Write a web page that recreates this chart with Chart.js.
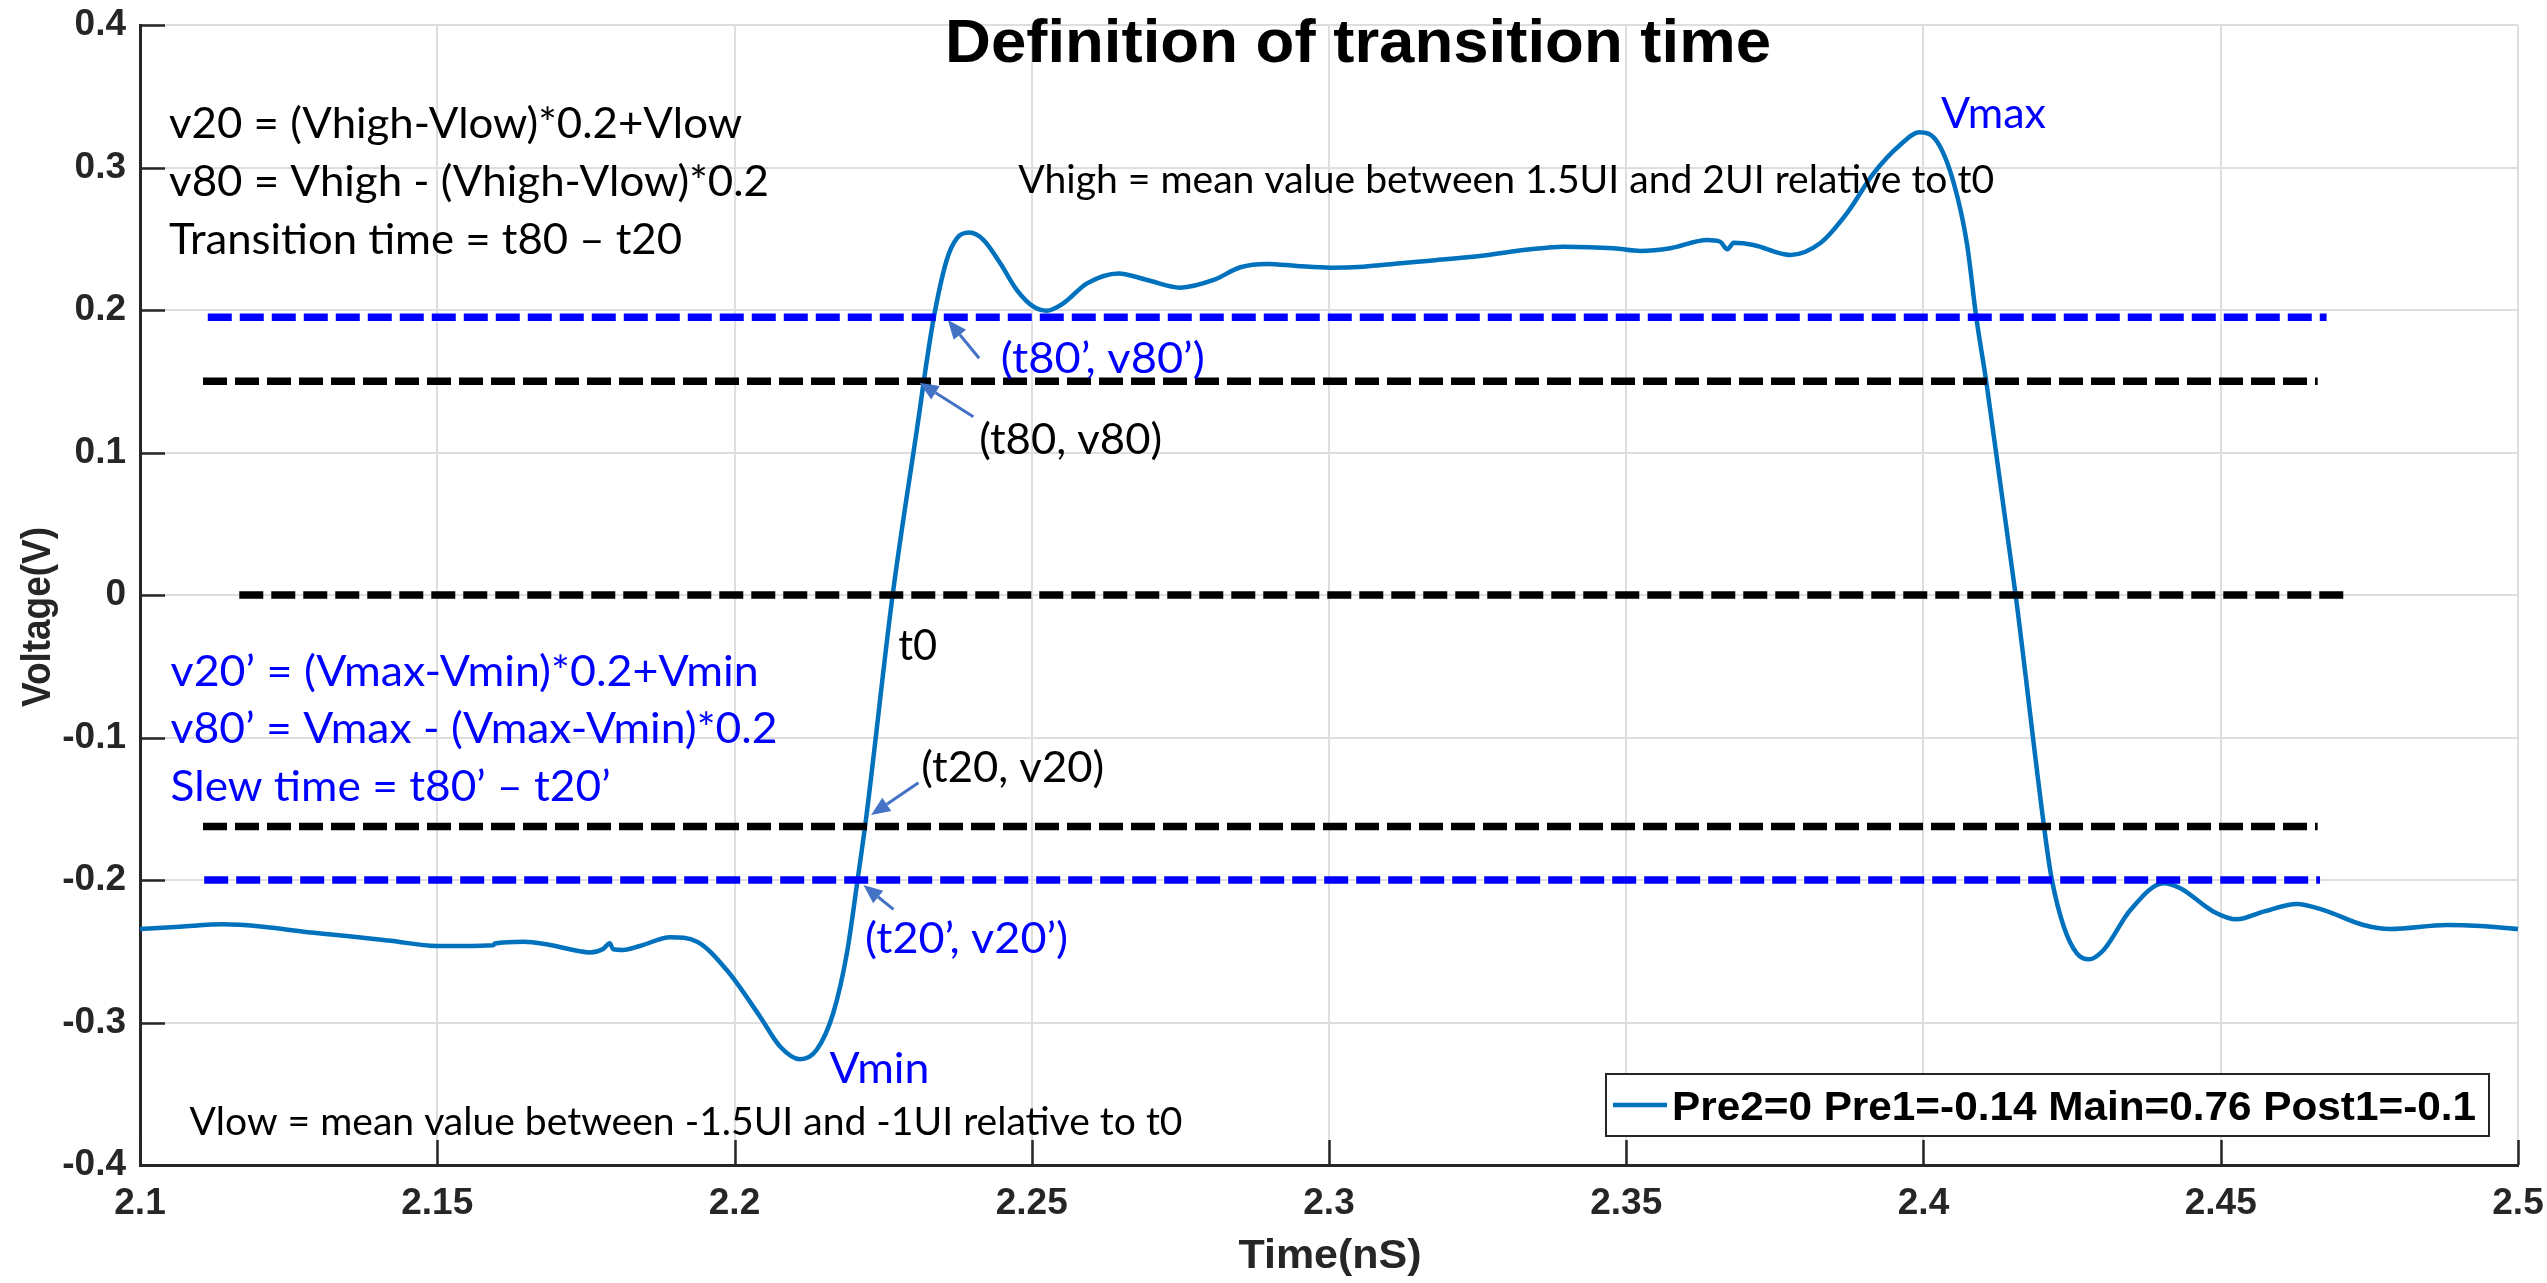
<!DOCTYPE html>
<html>
<head>
<meta charset="utf-8">
<script src="https://cdn.jsdelivr.net/npm/chart.js@4.4.1/dist/chart.umd.min.js"></script>
<style>
  html, body { margin: 0; padding: 0; background: #fff; }
  canvas { display: block; }
</style>
</head>
<body>
<canvas id="chart" width="2547" height="1283"></canvas>
<script>
// waveform (time in nS, voltage in V)
var times = [2.1000, 2.1067, 2.1140, 2.1207, 2.1275, 2.1348, 2.1421, 2.1499, 2.1544, 2.1594, 2.1597,
  2.1645, 2.1690, 2.1757, 2.1779, 2.1790, 2.1796, 2.1813, 2.1841, 2.1892, 2.1937, 2.1987, 2.2043,
  2.2077, 2.2110, 2.2138, 2.2166, 2.2189, 2.2207, 2.2221, 2.2266, 2.2312, 2.2318, 2.2335, 2.2357,
  2.2374, 2.2395, 2.2419, 2.2447, 2.2475, 2.2503, 2.2525, 2.2553, 2.2593, 2.2646, 2.2694, 2.2750,
  2.2806, 2.2851, 2.2896, 2.2946, 2.3002, 2.3058, 2.3120, 2.3170, 2.3254, 2.3339, 2.3395, 2.3479,
  2.3524, 2.3574, 2.3636, 2.3658, 2.3670, 2.3681, 2.3714, 2.3776, 2.3826, 2.3871, 2.3916, 2.3961,
  2.3993, 2.4023, 2.4051, 2.4073, 2.4089, 2.4106, 2.4155, 2.4208, 2.4216, 2.4236, 2.4258, 2.4278,
  2.4303, 2.4348, 2.4404, 2.4432, 2.4488, 2.4527, 2.4572, 2.4628, 2.4673, 2.4740, 2.4785, 2.4881,
  2.4937, 2.5000];
var volts = [-0.2344, -0.2328, -0.2311, -0.2328, -0.2363, -0.2393, -0.2426, -0.2463, -0.2463, -0.2458, -0.2446,
  -0.2433, -0.2456, -0.2508, -0.2484, -0.2444, -0.2486, -0.2491, -0.2463, -0.2402, -0.2433, -0.2632, -0.2959,
  -0.3170, -0.3258, -0.3193, -0.2935, -0.2515, -0.2000, -0.1579, 0.0000, 0.1310, 0.1490, 0.1942, 0.2351,
  0.2503, 0.2543, 0.2491, 0.2328, 0.2140, 0.2023, 0.1995, 0.2047, 0.2187, 0.2257, 0.2211, 0.2157,
  0.2211, 0.2300, 0.2323, 0.2309, 0.2297, 0.2304, 0.2328, 0.2346, 0.2379, 0.2426, 0.2444, 0.2433,
  0.2414, 0.2433, 0.2491, 0.2479, 0.2426, 0.2472, 0.2456, 0.2386, 0.2468, 0.2678, 0.2959, 0.3160,
  0.3247, 0.3181, 0.2889, 0.2468, 0.1942, 0.1486, 0.0000, -0.1789, -0.2000, -0.2328, -0.2515, -0.2557,
  -0.2491, -0.2211, -0.2023, -0.2058, -0.2222, -0.2276, -0.2222, -0.2168, -0.2211, -0.2316, -0.2344, -0.2316,
  -0.2323, -0.2344];
var seriesLabel = 'Pre2=0 Pre1=-0.14 Main=0.76 Post1=-0.1';

// dashed threshold lines: level and the time span each one covers
var levelValues = [0.195, 0.15, 0, -0.1625, -0.2];
var levelStarts = [2.1114, 2.1106, 2.1167, 2.1106, 2.1108];
var levelEnds = [2.4678, 2.4663, 2.4719, 2.4663, 2.4667];
var levelColors = ['#0000ff', '#000000', '#000000', '#000000', '#0000ff'];

var xTicks = [2.1, 2.15, 2.2, 2.25, 2.3, 2.35, 2.4, 2.45, 2.5];
var xTickLabels = ['2.1', '2.15', '2.2', '2.25', '2.3', '2.35', '2.4', '2.45', '2.5'];
var yTicks = [-0.4, -0.3, -0.2, -0.1, 0, 0.1, 0.2, 0.3, 0.4];
var yTickLabels = ['-0.4', '-0.3', '-0.2', '-0.1', '0', '0.1', '0.2', '0.3', '0.4'];

var titleText = 'Definition of transition time';
var xTitle = 'Time(nS)';
var yTitle = 'Voltage(V)';

// text notes placed in data units (left edge, baseline)
var BLUE = '#0000ff';
var notes = [
  { text: 'v20 = (Vhigh-Vlow)*0.2+Vlow', t: 2.10488, v: 0.3207, w: 573, size: 43, color: '#000' },
  { text: 'v80 = Vhigh - (Vhigh-Vlow)*0.2', t: 2.10488, v: 0.2800, w: 600, size: 43, color: '#000' },
  { text: 'Transition time = t80 \u2013 t20', t: 2.10488, v: 0.2393, w: 513, size: 43, color: '#000' },
  { text: 'Vhigh = mean value between 1.5UI and 2UI relative to t0', t: 2.24771, v: 0.2821, w: 976, size: 38, color: '#000' },
  { text: 'v20\u2019 = (Vmax-Vmin)*0.2+Vmin', t: 2.10515, v: -0.0639, w: 588, size: 43, color: BLUE },
  { text: 'v80\u2019 = Vmax - (Vmax-Vmin)*0.2', t: 2.10515, v: -0.1041, w: 607, size: 43, color: BLUE },
  { text: 'Slew time = t80\u2019 \u2013 t20\u2019', t: 2.10515, v: -0.1443, w: 440, size: 43, color: BLUE },
  { text: 't0', t: 2.22753, v: -0.0456, w: 39, size: 43, color: '#000' },
  { text: '(t80\u2019, v80\u2019)', t: 2.2448, v: 0.1560, w: 204, size: 43, color: BLUE },
  { text: '(t80, v80)', t: 2.24115, v: 0.0989, w: 183, size: 43, color: '#000' },
  { text: '(t20, v20)', t: 2.2314, v: -0.1310, w: 183, size: 43, color: '#000' },
  { text: '(t20\u2019, v20\u2019)', t: 2.22197, v: -0.2515, w: 203, size: 43, color: BLUE },
  { text: 'Vmin', t: 2.21597, v: -0.3427, w: 100, size: 43, color: BLUE },
  { text: 'Vmax', t: 2.40294, v: 0.3275, w: 105, size: 43, color: BLUE },
  { text: 'Vlow = mean value between -1.5UI and -1UI relative to t0', t: 2.10833, v: -0.3789, w: 993, size: 38, color: '#000' }
];

// pointer arrows: tail -> tip, in data units
var arrows = [
  { from: [2.24115, 0.1661], to: [2.23589, 0.1930] },
  { from: [2.24018, 0.1251], to: [2.23111, 0.1490] },
  { from: [2.23094, -0.1317], to: [2.22298, -0.1544] },
  { from: [2.22674, -0.2206], to: [2.22169, -0.2035] }
];

var TICK_FONT = { family: "'Liberation Sans', Arial, sans-serif", weight: 'bold', size: 37 };
var AXIS_COLOR = '#262626';

function fitText(ctx, str, x, y, font, color, width, align) {
  ctx.save();
  ctx.font = font;
  var w = ctx.measureText(str).width;
  var sx = width ? width / w : 1;
  ctx.translate(x, y);
  ctx.scale(sx, 1);
  ctx.fillStyle = color;
  ctx.textBaseline = 'alphabetic';
  ctx.textAlign = align || 'left';
  ctx.fillText(str, 0, 0);
  ctx.restore();
}

function drawArrow(ctx, x1, y1, x2, y2) {
  var a = Math.atan2(y2 - y1, x2 - x1), head = 19, half = 8;
  var c = Math.cos(a), s = Math.sin(a);
  var bx = x2 - head * c, by = y2 - head * s;
  ctx.save();
  ctx.strokeStyle = '#4472C4';
  ctx.fillStyle = '#4472C4';
  ctx.lineWidth = 3;
  ctx.beginPath();
  ctx.moveTo(x1, y1);
  ctx.lineTo(bx, by);
  ctx.stroke();
  ctx.beginPath();
  ctx.moveTo(x2, y2);
  ctx.lineTo(bx + half * s, by - half * c);
  ctx.lineTo(bx - half * s, by + half * c);
  ctx.closePath();
  ctx.fill();
  ctx.restore();
}

// keep the plot box where the reference has it: no extra room for edge labels
function noEdgePadding(s) {
  s.paddingTop = 0;
  s.paddingBottom = 0;
  s.paddingLeft = 0;
  s.paddingRight = 0;
}

var overlay = {
  id: 'overlay',
  afterDraw: function (chart) {
    var ctx = chart.ctx, area = chart.chartArea;
    var xs = chart.scales.x, ys = chart.scales.y;

    // inward tick marks
    ctx.save();
    ctx.strokeStyle = AXIS_COLOR;
    ctx.lineWidth = 2.5;
    ctx.beginPath();
    yTicks.forEach(function (v) {
      var py = Math.round(ys.getPixelForValue(v)) + 0.5;
      ctx.moveTo(area.left, py);
      ctx.lineTo(area.left + 25, py);
    });
    xTicks.forEach(function (t) {
      var px = Math.round(xs.getPixelForValue(t)) + 0.5;
      ctx.moveTo(px, area.bottom);
      ctx.lineTo(px, area.bottom - 25);
    });
    ctx.stroke();
    ctx.restore();

    // title and axis titles
    var cx = (area.left + area.right) / 2;
    fitText(ctx, titleText, cx + 29, area.top + 37, "bold 62px 'Liberation Sans', Arial, sans-serif", '#000', 826, 'center');
    fitText(ctx, xTitle, cx + 1, area.bottom + 103, "bold 40px 'Liberation Sans', Arial, sans-serif", AXIS_COLOR, 183, 'center');
    ctx.save();
    ctx.translate(50, (area.top + area.bottom) / 2 + 22);
    ctx.rotate(-Math.PI / 2);
    fitText(ctx, yTitle, 0, 0, "bold 40px 'Liberation Sans', Arial, sans-serif", AXIS_COLOR, 180, 'center');
    ctx.restore();

    // annotations
    notes.forEach(function (n) {
      fitText(ctx, n.text, xs.getPixelForValue(n.t), ys.getPixelForValue(n.v),
        n.size + "px Lato, 'Open Sans', sans-serif", n.color, n.w);
    });
    arrows.forEach(function (a) {
      drawArrow(ctx, xs.getPixelForValue(a.from[0]), ys.getPixelForValue(a.from[1]),
        xs.getPixelForValue(a.to[0]), ys.getPixelForValue(a.to[1]));
    });

    // legend box, bottom right inside the axes
    var ds = chart.data.datasets[chart.data.datasets.length - 1];
    var bx = area.right - 912, by = area.bottom - 91, bw = 883, bh = 62;
    ctx.save();
    ctx.fillStyle = '#fff';
    ctx.fillRect(bx, by, bw, bh);
    ctx.strokeStyle = AXIS_COLOR;
    ctx.lineWidth = 2;
    ctx.strokeRect(bx, by, bw, bh);
    ctx.strokeStyle = ds.borderColor;
    ctx.lineWidth = 4.5;
    ctx.beginPath();
    ctx.moveTo(bx + 7, by + 31);
    ctx.lineTo(bx + 61, by + 31);
    ctx.stroke();
    ctx.restore();
    fitText(ctx, ds.label, bx + 66, by + 46, "bold 40px 'Liberation Sans', Arial, sans-serif", '#000', 804);
  }
};

var datasets = levelValues.map(function (v, i) {
  return {
    label: 'level ' + v,
    data: [{ x: levelStarts[i], y: v }, { x: levelEnds[i], y: v }],
    borderColor: levelColors[i],
    borderWidth: 7.5,
    borderDash: [24, 8],
    borderCapStyle: 'butt',
    pointRadius: 0,
    order: 1
  };
});
datasets.push({
  label: seriesLabel,
  data: times.map(function (t, i) { return { x: t, y: volts[i] }; }),
  borderColor: '#0072BD',
  borderWidth: 4.5,
  pointRadius: 0,
  cubicInterpolationMode: 'monotone',
  order: 2
});

var ctx = document.getElementById('chart').getContext('2d');
var chart = new Chart(ctx, {
  type: 'line',
  data: { datasets: datasets },
  options: {
    responsive: false,
    animation: false,
    events: [],
    layout: { padding: { left: 0, right: 29, top: 25, bottom: 0 } },
    plugins: {
      legend: { display: false },
      tooltip: { enabled: false },
      title: { display: false }
    },
    scales: {
      x: {
        type: 'linear',
        min: 2.1,
        max: 2.5,
        afterBuildTicks: function (s) { s.ticks = xTicks.map(function (v) { return { value: v }; }); },
        afterFit: function (s) { s.height = 118; noEdgePadding(s); },
        ticks: {
          callback: function (v, i) { return xTickLabels[i]; },
          color: AXIS_COLOR,
          font: TICK_FONT,
          padding: 17,
          maxRotation: 0,
          autoSkip: false
        },
        grid: { color: '#dedede', lineWidth: 2, drawTicks: false },
        border: { display: true, color: AXIS_COLOR, width: 3 }
      },
      y: {
        type: 'linear',
        min: -0.4,
        max: 0.4,
        afterBuildTicks: function (s) { s.ticks = yTicks.map(function (v) { return { value: v }; }); },
        afterFit: function (s) { s.width = 140; noEdgePadding(s); },
        ticks: {
          callback: function (v, i) { return yTickLabels[i]; },
          color: AXIS_COLOR,
          font: TICK_FONT,
          padding: 14,
          autoSkip: false
        },
        grid: { color: '#dedede', lineWidth: 2, drawTicks: false },
        border: { display: true, color: AXIS_COLOR, width: 3 }
      }
    }
  },
  plugins: [overlay]
});
</script>
</body>
</html>
